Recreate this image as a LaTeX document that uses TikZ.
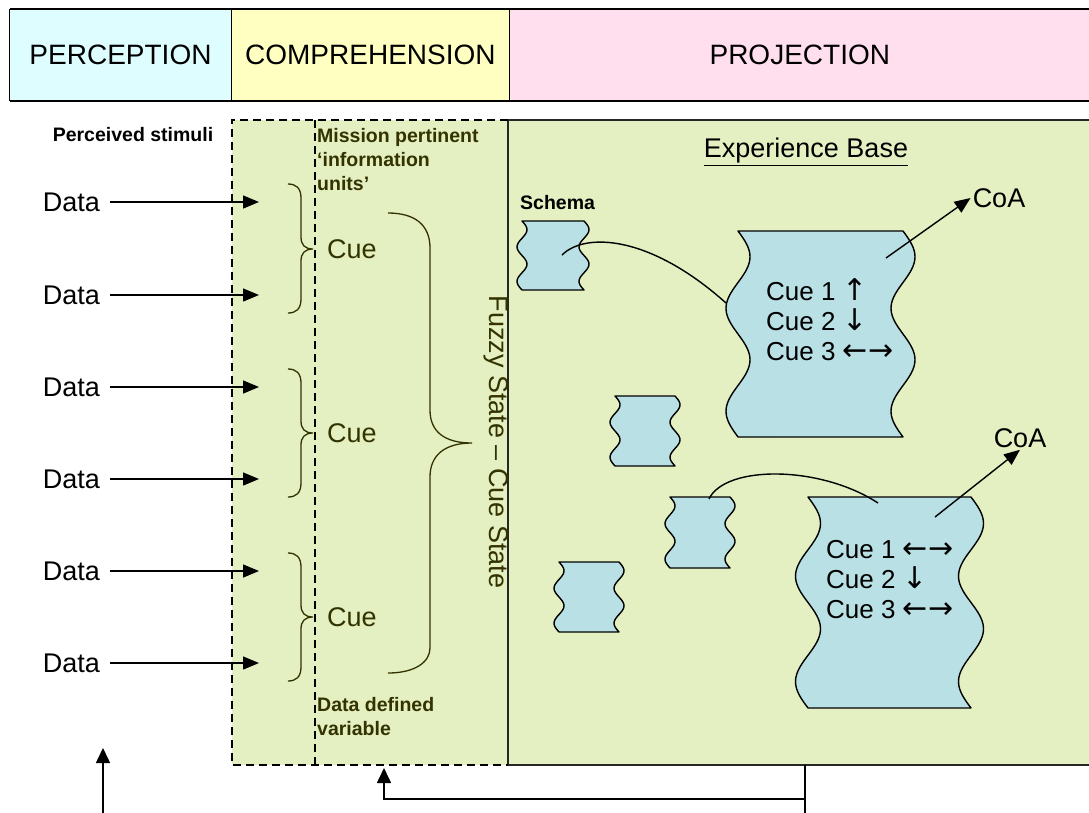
\documentclass[tikz,border=0pt]{standalone}
\usepackage{fontspec}
\setmainfont{Liberation Sans}
\newfontfamily\arrowfont{DejaVu Sans}
\usepackage{tikz}
\usetikzlibrary{arrows.meta, positioning}

\definecolor{perccol}{HTML}{DDFDFF}
\definecolor{compcol}{HTML}{FFFFC2}
\definecolor{projcol}{HTML}{FFDEEE}
\definecolor{areacol}{HTML}{E4EFC2}
\definecolor{tapecol}{HTML}{B9E0E4}
\definecolor{olivetext}{HTML}{333300}

\tikzset{
  headbox/.style={
    rectangle, fill=#1, minimum height=92pt, inner sep=0pt,
    text centered, font=\fontsize{28}{32}\selectfont
  },
  areabox/.style={
    rectangle, fill=areacol, minimum height=645pt, inner sep=0pt
  },
  dashline/.style={draw=black, line width=1.5pt, dash pattern=on 8pt off 5pt},
  tapebox/.style={fill=tapecol, draw=black, line width=1.4pt, line join=round},
  smalllabel/.style={
    font=\bfseries\fontsize{19.5}{24}\selectfont, inner sep=0pt, align=left
  },
  cuetext/.style={font=\fontsize{27}{31}\selectfont, text=olivetext, inner sep=0pt},
  cuelist/.style={
    font=\fontsize{26}{30}\selectfont, inner sep=0pt, align=left, anchor=west
  },
  bracepath/.style={draw=olivetext, line width=1.3pt},
  linkline/.style={line width=1.4pt},
}

\newcommand{\arrowglyph}[1]{{\arrowfont\fontsize{30}{30}\selectfont #1}}
\newcommand{\up}{\arrowglyph{↑}}
\newcommand{\down}{\arrowglyph{↓}}
\newcommand{\both}{\arrowglyph{←\kern1pt→}}

% wavy-sided schema box: x1, y1, x2, y2, amplitude
\newcommand{\tapeshape}[5]{%
  \filldraw[tapebox] (#1,#2) -- (#3,#2)
    -- plot[variable=\t, domain=0:1, samples=41, smooth]
         ({#3+#5*sin(720*\t)}, {#2+(#4-#2)*\t})
    -- (#1,#4)
    -- plot[variable=\t, domain=1:0, samples=41, smooth]
         ({#1+#5*sin(720*\t)}, {#2+(#4-#2)*\t})
    -- cycle;}

\begin{document}
\begin{tikzpicture}[x=1pt, y=-1pt,
    every node/.style={font=\fontsize{27}{31}\selectfont},
    arr/.style={-{Triangle[length=16pt, width=13pt]}, line width=1.4pt},
    fbarr/.style={-{Triangle[length=15pt, width=14pt]}, line width=1.6pt}
  ]
  \fill[white] (0,0) rectangle (1089,812);
  \useasboundingbox (0,0) rectangle (1089,812);

  % header row
  \node[headbox=perccol, minimum width=221pt] (perc) at (120.5,55) {PERCEPTION};
  \node[headbox=compcol, minimum width=278pt, right=0pt of perc] (comp) {COMPREHENSION};
  \node[headbox=projcol, minimum width=580pt, right=0pt of comp] (proj) {PROJECTION};
  \draw[line width=2pt] (perc.north west) -- ++(1100,0);
  \draw[line width=2pt] (perc.south west) -- ++(1100,0);
  \draw[line width=1pt] (perc.north west) -- (perc.south west)
                        (perc.north east) -- (perc.south east)
                        (comp.north east) -- (comp.south east);

  % working areas
  \node[areabox, minimum width=276pt] (comparea) at (370,442.5) {};
  \node[areabox, minimum width=600pt, draw=black!85, line width=1.5pt] (projarea) at (808,442.5) {};
  \draw[dashline] (comparea.north east) -- (comparea.north west)
                  -- (comparea.south west) -- (comparea.south east);
  \draw[dashline] (315,120) -- (315,765);

  \node[smalllabel] (percstim) at (133,135) {Perceived stimuli};
  \node[smalllabel, text=olivetext, anchor=north west] (mission) at (317,128)
       {Mission pertinent\\‘information\\units’};
  \node[smalllabel, text=olivetext, anchor=base west] (ddv) at (317,735)
       {Data defined\\variable};

  % stimuli
  \foreach \y [count=\i] in {202,295,387,479,571,663} {
    \node[inner xsep=10pt] (data\i) at (71.5,\y) {Data};
    \coordinate (tip\i) at (259,\y);
    \draw[arr] (data\i.east) -- (tip\i);
  }

  \foreach \ya/\yb/\yc in {184/249/313, 369/433/497, 553/617/681}
    \draw[bracepath] (288,\ya) .. controls (296,\ya) and (301,\ya+4) .. (301,\ya+14)
      -- (301,\yb-12) .. controls (301,\yb-4) and (305,\yb) .. (313,\yb)
      .. controls (305,\yb) and (301,\yb+4) .. (301,\yb+12)
      -- (301,\yc-14) .. controls (301,\yc-4) and (296,\yc) .. (288,\yc);

  \foreach \y [count=\i] in {249,433,617}
    \node[cuetext, anchor=west] (cue\i) at (327,\y) {Cue};

  \draw[bracepath] (388,213) .. controls (415,213) and (430,225) .. (430,248)
    -- (430,410) .. controls (430,432) and (445,443) .. (472,443)
    .. controls (445,443) and (430,455) .. (430,477)
    -- (430,648) .. controls (430,662) and (415,673) .. (388,673);

  \node[cuetext, rotate=-90] (fuzzy) at (496,442) {Fuzzy State – Cue State};

  % experience base
  \node (expbase) at (806,152) {\underline{Experience Base}};
  \node[smalllabel, anchor=west] (schemalbl) at (520,203) {Schema};

  \tapeshape{522}{221}{584}{290}{5}
  \tapeshape{615}{396}{675}{466}{5}
  \tapeshape{670}{497}{730}{568}{5}
  \tapeshape{559}{562}{619}{632}{5}
  \tapeshape{738}{231}{903}{437}{12}
  \tapeshape{808}{497}{971}{708}{12.5}

  \node[cuelist] (cues1) at (766,320) {Cue 1 \up\\Cue 2 \down\\Cue 3 \both};
  \node[cuelist] (cues2) at (826,580) {Cue 1 \both\\Cue 2 \down\\Cue 3 \both};

  \coordinate (schemaout) at (562,255);
  \coordinate (big1in) at (726,303);
  \draw[linkline] (schemaout) .. controls (585,232) and (650,235) .. (big1in);
  \coordinate (tapeout) at (709,499);
  \coordinate (big2in) at (878,503);
  \draw[linkline] (tapeout) .. controls (725,465) and (820,465) .. (big2in);

  \node[inner sep=2pt] (coa1) at (999,198) {CoA};
  \node[inner sep=2pt] (coa2) at (1020,438) {CoA};
  \coordinate (src1) at (886,258);
  \coordinate (src2) at (935,517);
  \draw[arr] (src1) -- (coa1.west);
  \draw[arr] (src2) -- (coa2.south);

  % feedback
  \coordinate (projout) at (805,765);
  \coordinate (fbbend) at (805,799);
  \coordinate (fbdown) at (805,830);
  \coordinate (compin) at (384,768);
  \draw[line width=1.6pt] (projout) -- (fbdown);
  \draw[fbarr] (fbbend) -| (compin);
  \coordinate (percup) at (103,830);
  \coordinate (percin) at (103,748);
  \draw[fbarr] (percup) -- (percin);
\end{tikzpicture}
\end{document}
